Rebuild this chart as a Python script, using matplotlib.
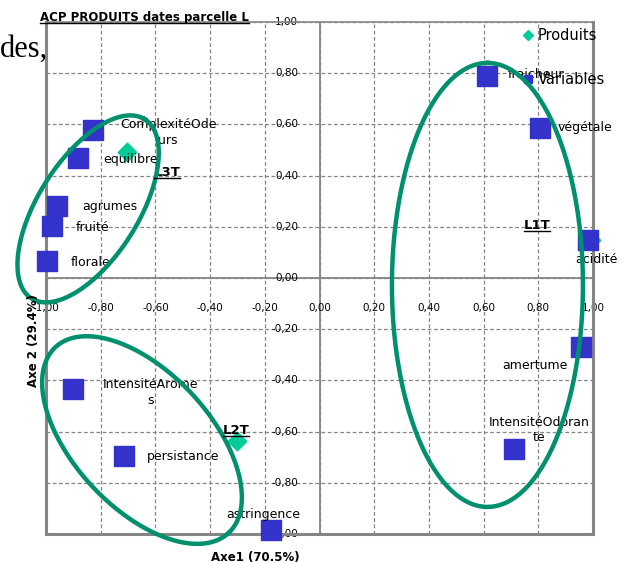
import numpy as np
import matplotlib
matplotlib.use('Agg')
import matplotlib.pyplot as plt
from matplotlib.lines import Line2D
from matplotlib.transforms import IdentityTransform

# ------------------------------------------------------------
# Données
# ------------------------------------------------------------
var_labels = ['ComplexitéOde\nurs', 'equilibre', 'agrumes', 'fruité', 'florale',
              'IntensitéArome\ns', 'persistance', 'astringence', 'fraicheur',
              'végétale', 'acidité', 'amertume', 'IntensitéOdoran\nte']
var_x = [-0.828, -0.883, -0.960, -0.978, -0.996, -0.901, -0.715, -0.177,
         0.612, 0.806, 0.982, 0.956, 0.711]
var_y = [0.578, 0.469, 0.281, 0.203, 0.066, -0.434, -0.695, -0.984,
         0.789, 0.586, 0.148, -0.270, -0.668]

prod_labels = ['L1T', 'L2T', 'L3T']
prod_x = [0.993, -0.302, -0.704]
prod_y = [0.148, -0.637, 0.492]

ticks = np.round(np.arange(-1.0, 1.01, 0.2), 2)

# position des étiquettes (décalage en pixels, alignement)
var_offsets = [(75, -2.5, 'center'), (25, -2, 'left'), (25, 0, 'left'), (24, -1, 'left'),
               (24, -1, 'left'), (77, -3.5, 'center'), (23, -1, 'left'), (-8, 15, 'center'),
               (21, 2, 'left'), (18, 0, 'left'), (8, -19, 'center'), (-46, -18, 'center'),
               (25, 19, 'center')]
prod_offsets = [(-54, 15), (-1, 11), (40, -20)]

# ellipses de regroupement : centre (données), demi-axes (px), angle
groups = [((-0.846, 0.270), 106, 50, 57.7),
          ((-0.649, -0.633), 127, 68, -47.0),
          ((0.614, -0.027), 222, 95.5, 90.0)]

BLUE = '#3333CC'
TEAL = '#00CC99'
GREEN = '#00906E'
GRAY = '#858585'

# ------------------------------------------------------------
# Figure
# ------------------------------------------------------------
plt.rcParams['font.family'] = 'DejaVu Sans'
fig = plt.figure(figsize=(6.29, 5.62), dpi=100)
W, H = 629, 562
ax = fig.add_axes([46 / W, 28 / H, 547 / W, 512 / H])
ax.set_xlim(-1, 1)
ax.set_ylim(-1, 1)

ax.set_xticks(ticks)
ax.set_yticks(ticks)
ax.grid(True, ls=(0, (3, 2)), color=GRAY, lw=0.9)
ax.set_axisbelow(True)
ax.tick_params(length=0, labelbottom=False, labelleft=False)
for side in ['left', 'bottom', 'right']:
    ax.spines[side].set_color(GRAY)
    ax.spines[side].set_linewidth(2.2)
ax.spines['top'].set_color(GRAY)
ax.spines['top'].set_linewidth(1.2)

ax.axhline(0, color=GRAY, lw=1.3, zorder=1)
ax.axvline(0, color=GRAY, lw=1.3, zorder=1)

# libellés des graduations (style Excel, au milieu du graphique)
for t in ticks:
    lab = f'{t:.2f}'.replace('.', ',')
    if lab == '-0,00':
        lab = '0,00'
    ax.text(t, -0.117, lab, ha='center', va='center', fontsize=7.5, zorder=1)
    ax.text(-0.079, t, lab, ha='right', va='center', fontsize=7.5, zorder=1)

# produits (losanges)
ax.scatter(prod_x, prod_y, marker='D', s=90, color=TEAL, zorder=3, clip_on=False)
prod_texts = []
for name, x, y, (dx, dy) in zip(prod_labels, prod_x, prod_y, prod_offsets):
    t = ax.annotate(name, (x, y), xytext=(dx, dy), textcoords='offset pixels',
                    ha='center', va='center', fontsize=9.5, fontweight='bold', zorder=5)
    prod_texts.append(t)

# variables (carrés)
ax.scatter(var_x, var_y, marker='s', s=205, color=BLUE, zorder=4, clip_on=False)
for name, x, y, (dx, dy, ha) in zip(var_labels, var_x, var_y, var_offsets):
    ax.annotate(name, (x, y), xytext=(dx, dy), textcoords='offset pixels',
                ha=ha, va='center', fontsize=9, multialignment='center',
                linespacing=1.25, zorder=5)


def ring(ax, center, a, b, ang):
    t = np.linspace(0, 2 * np.pi, 400)
    th = np.deg2rad(ang)
    dx = a * np.cos(t) * np.cos(th) - b * np.sin(t) * np.sin(th)
    dy = a * np.cos(t) * np.sin(th) + b * np.sin(t) * np.cos(th)
    x0, y0 = ax.transData.transform(center)
    pts = ax.transData.inverted().transform(np.column_stack([x0 + dx, y0 + dy]))
    ax.plot(pts[:, 0], pts[:, 1], color=GREEN, lw=3.2, zorder=6, clip_on=False)


for center, a, b, ang in groups:
    ring(ax, center, a, b, ang)

# légende
handles = [Line2D([], [], marker='D', color=TEAL, ls='none', markersize=5),
           Line2D([], [], marker='s', color=BLUE, ls='none', markersize=5.5)]
ax.legend(handles, ['Produits', 'Variables'], loc='upper left',
          bbox_to_anchor=(524 / W, 1 - 28 / H), bbox_transform=fig.transFigure,
          frameon=False, fontsize=10.5, labelspacing=2.0, handlelength=0.6,
          handletextpad=0.35, borderpad=0, borderaxespad=0)

# titres
title = fig.text(40 / W, 1 - 21 / H, 'ACP PRODUITS dates parcelle L', ha='left',
                 va='baseline', fontsize=8.5, fontweight='bold')
fig.text(255 / W, 1 - 557 / H, 'Axe1 (70.5%)', ha='center', va='center',
         fontsize=8.5, fontweight='bold')
fig.text(33 / W, 1 - 341 / H, 'Axe 2 (29.4%)', ha='center', va='center',
         rotation=90, fontsize=8.5, fontweight='bold')
fig.text(0, 1 - 57 / H, 'des,', ha='left', va='baseline', fontsize=22,
         family='Liberation Serif')

# soulignement
fig.canvas.draw()
for txt, off in [(title, 1.5)] + [(t, 1.0) for t in prod_texts]:
    bb = txt.get_window_extent()
    y = bb.y0 + off if txt is not title else fig.transFigure.transform((0, 1 - 23 / H))[1]
    fig.add_artist(Line2D([bb.x0, bb.x1], [y, y], transform=IdentityTransform(),
                          color='black', lw=1.0))

fig.savefig('out.png', dpi=100, facecolor='white')
